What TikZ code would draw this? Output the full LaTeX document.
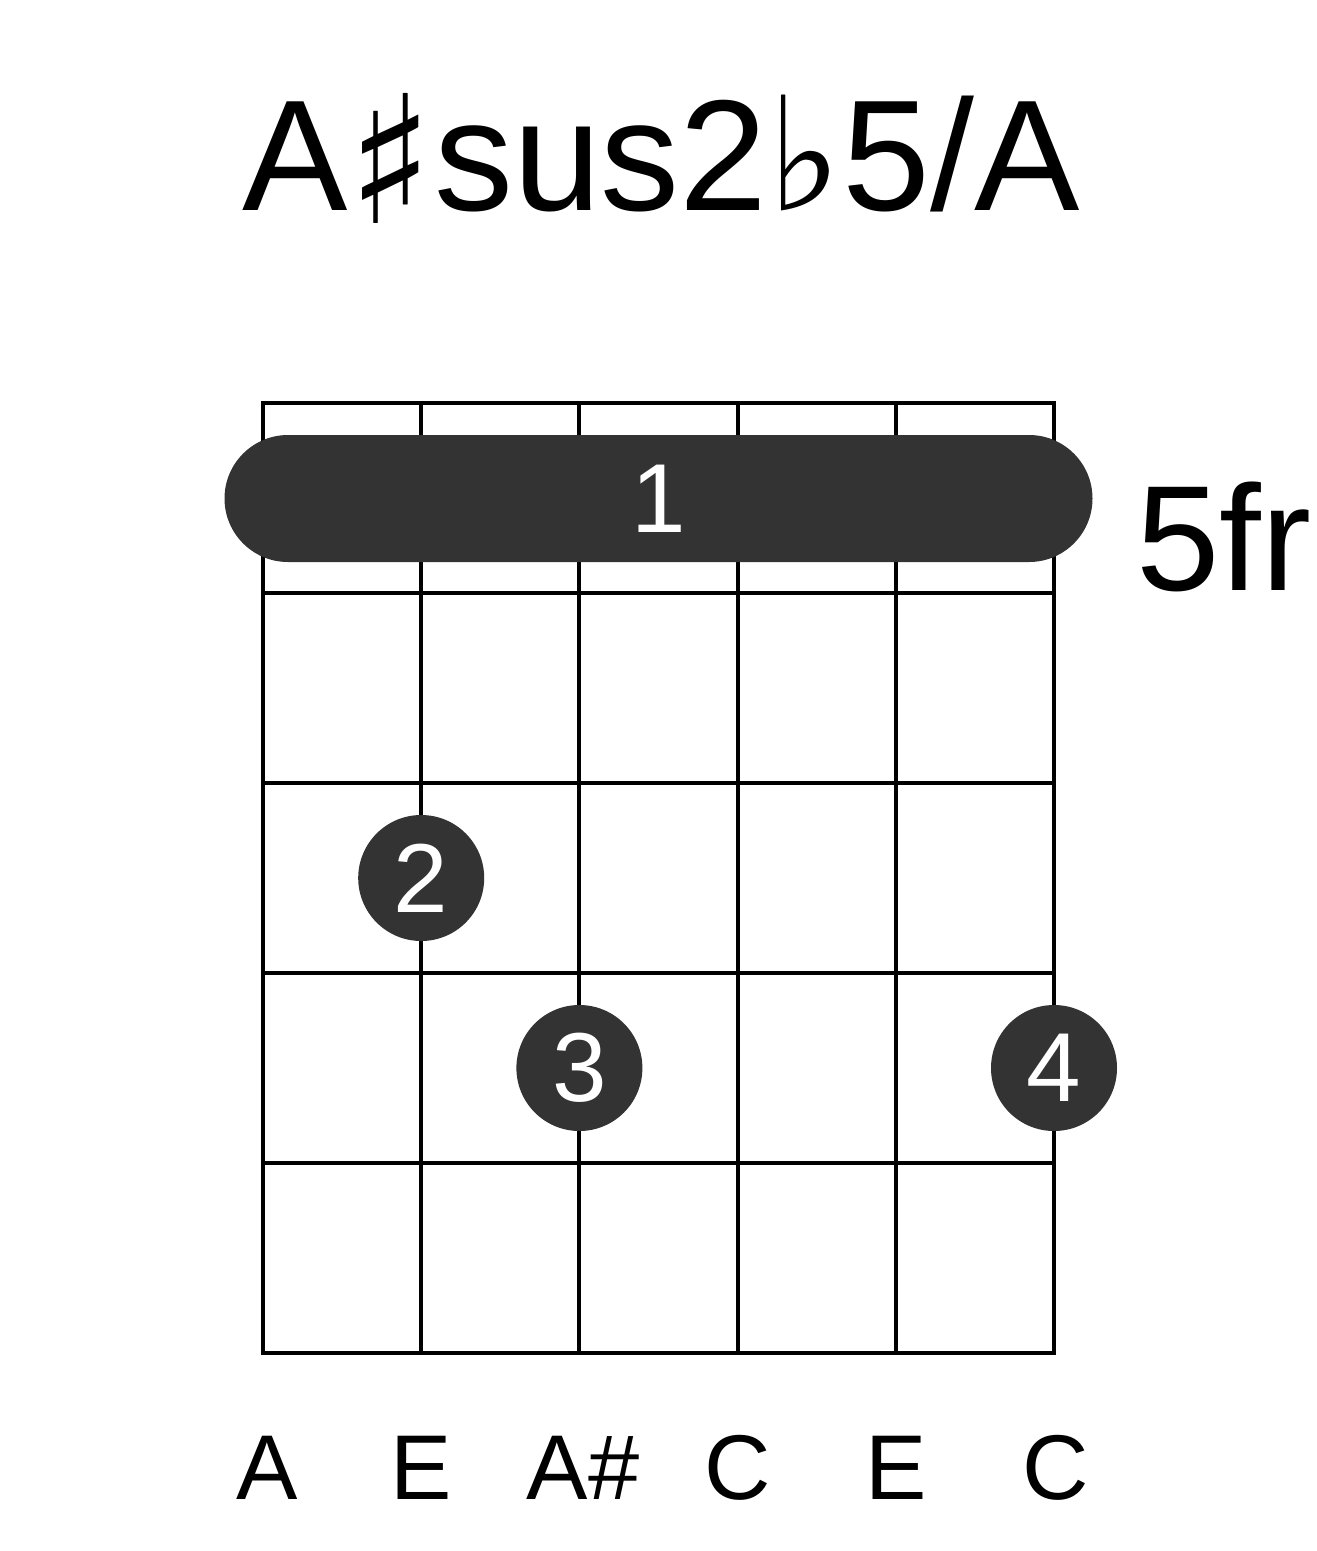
\documentclass[tikz,border=0pt]{standalone}
\usepackage{fontspec}
\setmainfont{Liberation Sans}
\newfontfamily\symfont{DejaVu Serif}
\definecolor{dotgray}{HTML}{333333}
\tikzset{
  fret/.style={line width=4pt,line cap=rect},
  finger/.style={circle,fill=dotgray,text=white,inner sep=0pt,minimum size=126pt,font=\fontsize{98}{98}\selectfont},
  barre/.style={rectangle,rounded corners=63.5pt,fill=dotgray,text=white,inner sep=0pt,minimum width=868pt,minimum height=127pt,font=\fontsize{98}{98}\selectfont},
  note/.style={anchor=base,font=\fontsize{92}{92}\selectfont}
}
\begin{document}
\begin{tikzpicture}[x=1pt,y=-1pt]
\useasboundingbox (0,0) rectangle (1317,1551);
\coordinate (s1) at (263,1353);
\coordinate (s2) at (421.2,1353);
\coordinate (s3) at (579.4,1353);
\coordinate (s4) at (737.6,1353);
\coordinate (s5) at (895.8,1353);
\coordinate (s6) at (1054,1353);
\coordinate (t1) at (263,403);
\coordinate (t2) at (421.2,403);
\coordinate (t3) at (579.4,403);
\coordinate (t4) at (737.6,403);
\coordinate (t5) at (895.8,403);
\coordinate (t6) at (1054,403);

\draw[fret] (t1) -- (s1);
\draw[fret] (t2) -- (s2);
\draw[fret] (t3) -- (s3);
\draw[fret] (t4) -- (s4);
\draw[fret] (t5) -- (s5);
\draw[fret] (t6) -- (s6);

\draw[fret] (t1) -- (t6);
\draw[fret] (263,593) -- (1054,593);
\draw[fret] (263,783) -- (1054,783);
\draw[fret] (263,973) -- (1054,973);
\draw[fret] (263,1163) -- (1054,1163);
\draw[fret] (s1) -- (s6);

\node[anchor=base] (title) at (661,210) {\fontsize{158}{158}\selectfont A{\symfont\fontsize{178}{178}\selectfont\raisebox{-13pt}{♯}}sus2{\symfont ♭}5/A};

\node[barre] (bar) at (658.5,498.5) {1};
\node[anchor=base west] (pos) at (1133,590) {\fontsize{150}{150}\selectfont 5fr};

\node[finger] (f2) at (421.2,878) {2};
\node[finger] (f3) at (579.4,1068) {3};
\node[finger] (f4) at (1054,1068) {4};

\node[note] (n1) at (267,1499) {A};
\node[note] (n2) at (421.2,1499) {E};
\node[note] (n3) at (583,1499) {A\#};
\node[note] (n4) at (737.6,1499) {C};
\node[note] (n5) at (895.8,1499) {E};
\node[note] (n6) at (1056,1499) {C};
\end{tikzpicture}
\end{document}
